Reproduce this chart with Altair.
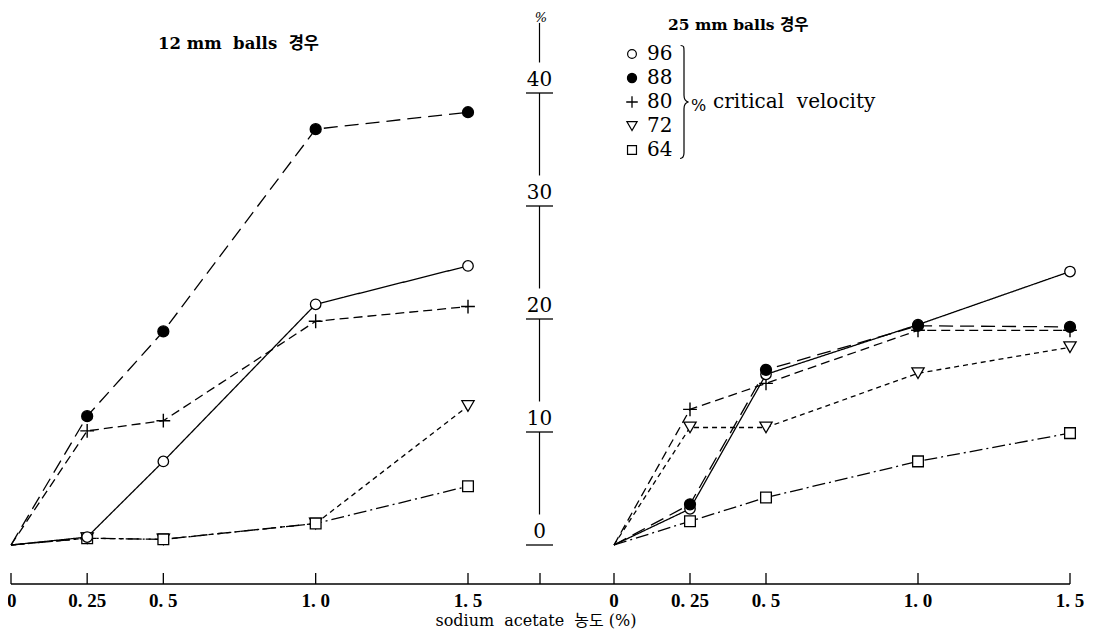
import altair as alt
import pandas as pd

# ---------------- data ----------------
conc = [0, 0.25, 0.5, 1.0, 1.5]
series = ["96", "88", "80", "72", "64"]

# 12 mm balls (left panel)
left_96 = [0.0, 0.7, 7.4, 21.3, 24.7]
left_88 = [0.0, 11.4, 18.9, 36.8, 38.3]
left_80 = [0.0, 10.1, 11.0, 19.8, 21.1]
left_72 = [0.0, 0.6, 0.5, 1.9, 12.3]
left_64 = [0.0, 0.6, 0.5, 1.9, 5.2]

# 25 mm balls (right panel)
right_96 = [0.0, 3.2, 15.1, 19.5, 24.2]
right_88 = [0.0, 3.6, 15.5, 19.4, 19.3]
right_80 = [0.0, 12.0, 14.3, 19.0, 19.0]
right_72 = [0.0, 10.4, 10.4, 15.2, 17.5]
right_64 = [0.0, 2.1, 4.2, 7.4, 9.9]

y_ticks = [0, 10, 20, 30, 40]
x_ticks = [0, 0.25, 0.5, 1.0, 1.5]
x_tick_labels = ["0", "0. 25", "0. 5", "1. 0", "1. 5"]

NB = "\u00a0"
title_left = f"12 mm{NB} balls{NB} 경우"
title_right = "25 mm balls 경우"
legend_note = f"critical{NB} velocity"
x_title = f"sodium{NB} acetate{NB} 농도 (%)"
y_unit = "%"

# ---------------- layout / style ----------------
OX = OY = 8
W, H = 1093 - 2 * OX, 640 - 2 * OY
FONT = "DejaVu Serif, Noto Sans CJK KR"
FONT2 = "Liberation Serif, Noto Sans CJK KR"

xL = alt.Scale(domain=[0, 1.5], range=[11 - OX, 468 - OX], nice=False, zero=False)
xR = alt.Scale(domain=[0, 1.5], range=[614 - OX, 1070 - OX], nice=False, zero=False)
yS = alt.Scale(domain=[0, 40], range=[545 - OY, 93 - OY], nice=False, zero=False)

dash = {"96": [1, 0], "88": [14, 7], "80": [9, 5], "72": [5, 4], "64": [13, 4, 2, 4]}
PLUS = "M-1,0H1M0,-1V1"
marker = {
    "96": dict(shape="circle", fill="white", size=110),
    "88": dict(shape="circle", fill="black", size=120),
    "80": dict(shape=PLUS, size=190),
    "72": dict(shape="triangle-down", fill="white", size=150),
    "64": dict(shape="square", fill="white", size=115),
}
draw_order = ["80", "72", "64", "96", "88"]


def long_df(vals):
    return pd.DataFrame(
        [{"series": s, "conc": c, "value": v}
         for s, row in zip(series, vals) for c, v in zip(conc, row)]
    )


def point_mark(chart, m, sw=1.3):
    if "fill" in m:
        return chart.mark_point(shape=m["shape"], size=m["size"], filled=True,
                                fill=m["fill"], stroke="black", strokeWidth=sw, opacity=1)
    return chart.mark_point(shape=m["shape"], size=m["size"], stroke="black",
                            strokeWidth=sw + 0.1, opacity=1)


def panel(vals, xs, first_align):
    df = long_df(vals)
    X = alt.X("conc:Q", scale=xs, axis=None)
    Y = alt.Y("value:Q", scale=yS, axis=None)
    layers = []
    for s in series:
        sub = df[df.series == s]
        layers.append(
            alt.Chart(sub).mark_line(color="black", strokeWidth=1.3, strokeDash=dash[s])
            .encode(x=X, y=Y)
        )
    for s in draw_order:
        sub = df[(df.series == s) & (df.conc > 0)]
        layers.append(point_mark(alt.Chart(sub), marker[s]).encode(x=X, y=Y))
    # bottom axis ticks + labels for this panel
    tdf = pd.DataFrame({"t": x_ticks, "lab": x_tick_labels})
    TX = alt.X("t:Q", scale=xs, axis=None)
    layers.append(
        alt.Chart(tdf).mark_rule(color="black", strokeWidth=1.3)
        .encode(x=TX, y=alt.value(573 - OY), y2=alt.value(584 - OY))
    )
    first = tdf.iloc[:1]
    rest = tdf.iloc[1:]
    layers.append(
        alt.Chart(rest).mark_text(font=FONT2, fontSize=19, fontWeight="bold",
                                  baseline="middle", align="center", color="black")
        .encode(x=TX, y=alt.value(601 - OY), text="lab:N")
    )
    layers.append(
        alt.Chart(first).mark_text(font=FONT2, fontSize=19, fontWeight="bold",
                                   baseline="middle", align=first_align,
                                   dx=-4 if first_align == "left" else 0, color="black")
        .encode(x=TX, y=alt.value(601 - OY), text="lab:N")
    )
    return alt.layer(*layers)


left = panel([left_96, left_88, left_80, left_72, left_64], xL, "left")
right = panel([right_96, right_88, right_80, right_72, right_64], xR, "center")

# ---------------- central y axis ----------------
AX = 539.5 - OX
ydf = pd.DataFrame({"v": y_ticks, "lab": [str(v) for v in y_ticks]})
seg = pd.DataFrame({
    "a": [v + 2.7 for v in y_ticks],
    "b": [v + 10 if v < max(y_ticks) else 46.2 for v in y_ticks],
})
yaxis_ticks = alt.Chart(ydf).mark_rule(color="black", strokeWidth=1.3).encode(
    x=alt.value(AX - 13.5), x2=alt.value(AX + 13.5), y=alt.Y("v:Q", scale=yS, axis=None)
)
yaxis_line = alt.Chart(seg).mark_rule(color="black", strokeWidth=1.2).encode(
    x=alt.value(AX), y=alt.Y("a:Q", scale=yS, axis=None), y2="b:Q"
)
yaxis_labels = alt.Chart(ydf).mark_text(font=FONT, fontSize=20, baseline="alphabetic",
                                        align="center", dy=-7, color="black").encode(
    x=alt.value(AX), y=alt.Y("v:Q", scale=yS, axis=None), text="lab:N"
)
yunit = alt.Chart(pd.DataFrame({"t": [y_unit]})).mark_text(
    font=FONT, fontSize=13, fontStyle="italic", baseline="middle", align="center", color="black"
).encode(x=alt.value(541 - OX), y=alt.value(18 - OY), text="t:N")

# ---------------- bottom axis line ----------------
baseline_rule = alt.Chart(pd.DataFrame({"k": [0]})).mark_rule(color="black", strokeWidth=1.7).encode(
    x=alt.value(11 - OX), x2=alt.value(1070 - OX), y=alt.value(584 - OY)
)
center_tick = alt.Chart(pd.DataFrame({"k": [0]})).mark_rule(color="black", strokeWidth=1.3).encode(
    x=alt.value(540 - OX), y=alt.value(573 - OY), y2=alt.value(584 - OY)
)
xtitle = alt.Chart(pd.DataFrame({"t": [x_title]})).mark_text(
    font=FONT, fontSize=16, baseline="alphabetic", align="center", color="black"
).encode(x=alt.value(536 - OX), y=alt.value(626 - OY), text="t:N")

# ---------------- titles ----------------
tl = alt.Chart(pd.DataFrame({"t": [title_left]})).mark_text(
    font=FONT, fontSize=16.5, fontWeight="bold", baseline="middle", align="left", color="black"
).encode(x=alt.value(158 - OX), y=alt.value(44 - OY), text="t:N")
tr = alt.Chart(pd.DataFrame({"t": [title_right]})).mark_text(
    font=FONT, fontSize=15.5, fontWeight="bold", baseline="middle", align="left", color="black"
).encode(x=alt.value(668 - OX), y=alt.value(25 - OY), text="t:N")

# ---------------- legend ----------------
LEG_Y0, LEG_DY = 54, 24
leg_layers = []
for i, s in enumerate(series):
    yy = LEG_Y0 + i * LEG_DY - OY
    m = dict(marker[s])
    m["size"] = int(m["size"] * 0.7)
    leg_layers.append(point_mark(alt.Chart(pd.DataFrame({"k": [0]})), m, sw=1.2).encode(
        x=alt.value(632 - OX), y=alt.value(yy)))
    leg_layers.append(alt.Chart(pd.DataFrame({"t": [s]})).mark_text(
        font=FONT, fontSize=20, baseline="middle", align="left", color="black"
    ).encode(x=alt.value(647 - OX), y=alt.value(yy), text="t:N"))

BRACE = ("M-0.06,-1 C0.0,-1 0.0,-0.97 0.0,-0.9 L0.0,-0.12 C0.0,-0.04 0.03,-0.01 0.08,0 "
         "C0.03,0.01 0.0,0.04 0.0,0.12 L0.0,0.9 C0.0,0.97 -0.02,1 -0.07,1")
brace = alt.Chart(pd.DataFrame({"k": [0]})).mark_point(
    shape=BRACE, size=113 * 113, stroke="black", strokeWidth=1.2, opacity=1
).encode(x=alt.value(684 - OX), y=alt.value(102 - OY))
pct = alt.Chart(pd.DataFrame({"t": ["%"]})).mark_text(
    font=FONT, fontSize=16, baseline="middle", align="left", color="black"
).encode(x=alt.value(691 - OX), y=alt.value(106 - OY), text="t:N")
note = alt.Chart(pd.DataFrame({"t": [legend_note]})).mark_text(
    font=FONT, fontSize=20, baseline="middle", align="left", color="black"
).encode(x=alt.value(713 - OX), y=alt.value(102 - OY), text="t:N")

deco = alt.layer(yaxis_line, yaxis_ticks, yaxis_labels, yunit, baseline_rule, center_tick,
                 xtitle, tl, tr, brace, pct, note, *leg_layers)

chart = (
    alt.layer(left, right, deco)
    .resolve_scale(x="independent", y="independent")
    .properties(width=W, height=H, autosize=alt.AutoSizeParams(type="none"), padding=0,
                background="white")
    .configure_view(strokeWidth=0)
)

chart.save("out.html", embed_options={"renderer": "svg", "actions": False})
